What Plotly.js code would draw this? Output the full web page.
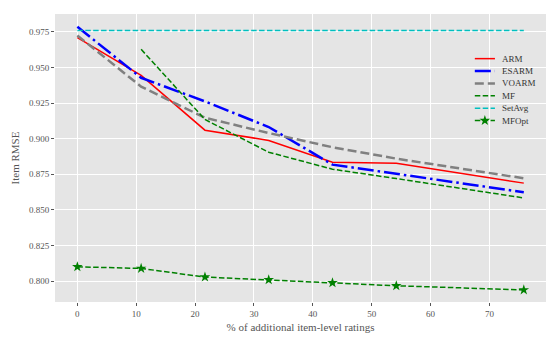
<!DOCTYPE html>
<html>
<head>
<meta charset="utf-8">
<script src="https://cdn.plot.ly/plotly-3.0.1.min.js"></script>
<style>
  html, body { margin: 0; padding: 0; background: #fff; }
  #chart { width: 560px; height: 346px; }
</style>
</head>
<body>
<div id="chart"></div>
<script>
// datos
const pct = [0, 10.83, 21.67, 32.5, 43.33, 54.17, 75.83];
const pctMF = [10.83, 21.67, 32.5, 43.33, 54.17, 75.83];
const pctSet = [0, 75.83];

const arm = [0.971, 0.9445, 0.906, 0.8988, 0.8835, 0.8828, 0.8688];
const esarm = [0.9786, 0.9428, 0.9262, 0.9082, 0.8818, 0.8753, 0.8624];
const voarm = [0.9725, 0.9366, 0.9147, 0.904, 0.894, 0.886, 0.8722];
const mf = [0.9628, 0.9135, 0.8905, 0.8786, 0.8720, 0.8584];
const setAvg = [0.976, 0.976];
const mfOpt = [0.810, 0.8089, 0.8028, 0.8009, 0.7988, 0.7967, 0.7938];

const fuente = '"Liberation Serif", "DejaVu Serif", serif';
const gris = '#555555';

const trazas = [
  { x: pct, y: arm, name: 'ARM', mode: 'lines',
    line: { color: '#FF0000', width: 1.5 } },
  { x: pct, y: esarm, name: 'ESARM', mode: 'lines',
    line: { color: '#0000FF', width: 2.5, dash: '16px,4px,2.5px,4px' } },
  { x: pct, y: voarm, name: 'VOARM', mode: 'lines',
    line: { color: '#808080', width: 2.5, dash: '9px,4px' } },
  { x: pctMF, y: mf, name: 'MF', mode: 'lines',
    line: { color: '#008000', width: 1.5, dash: '5.5px,2.4px' } },
  { x: pctSet, y: setAvg, name: 'SetAvg', mode: 'lines',
    line: { color: '#00BFBF', width: 1.5, dash: '5.5px,2.4px' } },
  { x: pct, y: mfOpt, name: 'MFOpt', mode: 'lines+markers',
    line: { color: '#008000', width: 1.5, dash: '5.5px,2.4px' },
    marker: { symbol: 'star', size: 8, color: '#008000' } }
];

// Leyenda dibujada a mano (la de plotly deja mucho espacio entre filas)
const shapes = [];
const annotations = [];
const legX0 = 0.855, legX1 = 0.896, legTxt = 0.906;
const legY0 = 0.845, legPaso = 0.043;
const marcasLeyenda = { x: [], y: [] };

trazas.forEach((t, i) => {
  t.showlegend = false;
  let y = legY0 - i * legPaso;
  shapes.push({
    type: 'line', xref: 'paper', yref: 'paper',
    x0: legX0, x1: legX1, y0: y, y1: y,
    line: { color: t.line.color, width: t.line.width, dash: t.line.dash || 'solid' }
  });
  annotations.push({
    xref: 'paper', yref: 'paper', x: legTxt, y: y,
    xanchor: 'left', yanchor: 'middle', showarrow: false,
    text: t.name, font: { family: fuente, size: 9, color: '#333' }
  });
  if (t.marker) {
    marcasLeyenda.x.push((legX0 + legX1) / 2);
    marcasLeyenda.y.push(y);
  }
});

trazas.push({
  x: marcasLeyenda.x, y: marcasLeyenda.y, xaxis: 'x2', yaxis: 'y2',
  mode: 'markers', showlegend: false, hoverinfo: 'skip',
  marker: { symbol: 'star', size: 8, color: '#008000' }
});

const layout = {
  width: 560, height: 346,
  margin: { l: 55, r: 14, t: 14, b: 44 },
  paper_bgcolor: '#FFFFFF',
  plot_bgcolor: '#E5E5E5',
  font: { family: fuente, size: 9, color: gris },
  showlegend: false,
  shapes: shapes,
  annotations: annotations,
  xaxis: {
    range: [-3.8, 79.6],
    tickvals: [0, 10, 20, 30, 40, 50, 60, 70],
    showgrid: true, gridcolor: '#FFFFFF', gridwidth: 1,
    zeroline: false, showline: false,
    ticks: 'outside', ticklen: 3, tickcolor: gris, tickwidth: 1,
    tickfont: { family: fuente, size: 9, color: gris },
    title: { text: '% of additional item-level ratings', standoff: 5,
             font: { family: fuente, size: 11, color: gris } }
  },
  yaxis: {
    range: [0.7853, 0.9876],
    tick0: 0.8, dtick: 0.025, tickformat: '.3f',
    showgrid: true, gridcolor: '#FFFFFF', gridwidth: 1,
    zeroline: false, showline: false,
    ticks: 'outside', ticklen: 3, tickcolor: gris, tickwidth: 1,
    tickfont: { family: fuente, size: 9, color: gris },
    title: { text: 'Item RMSE', standoff: 7,
             font: { family: fuente, size: 11, color: gris } }
  },
  xaxis2: { overlaying: 'x', range: [0, 1], visible: false, fixedrange: true },
  yaxis2: { overlaying: 'y', range: [0, 1], visible: false, fixedrange: true }
};

Plotly.newPlot('chart', trazas, layout, { displayModeBar: false, staticPlot: true });
</script>
</body>
</html>
